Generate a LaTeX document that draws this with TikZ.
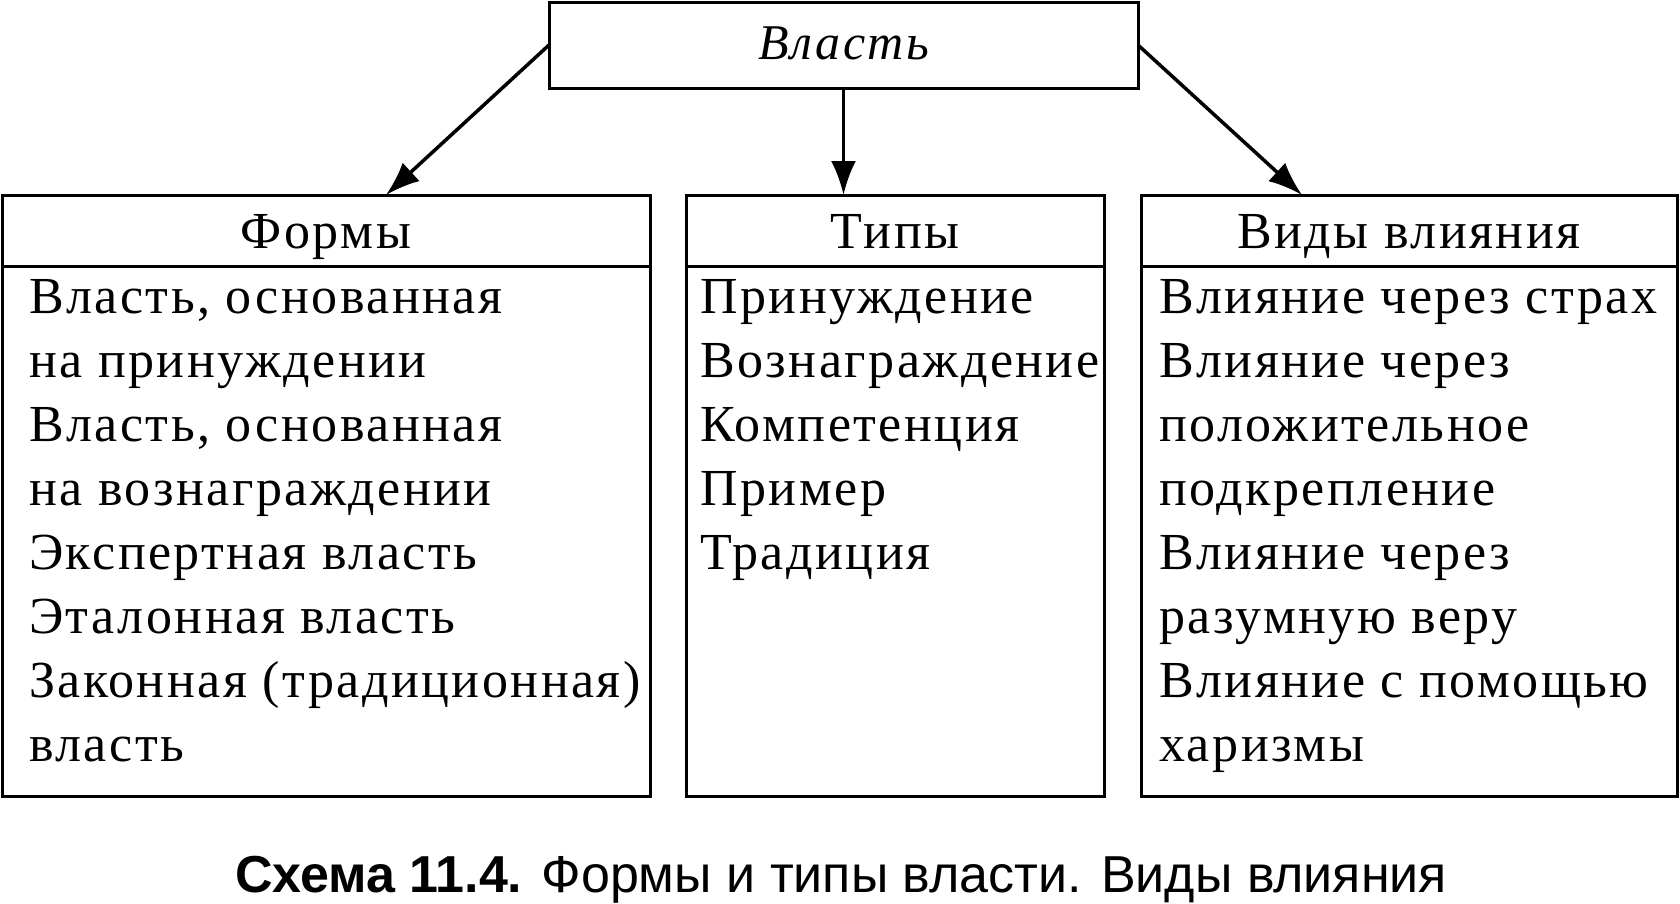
\documentclass[tikz,border=0pt]{standalone}
\usepackage{fontspec}
\setmainfont{Liberation Serif}[LetterSpace=4.8]
\newfontfamily\capfont{Liberation Sans}
\usetikzlibrary{arrows.meta, positioning}

\begin{document}
\begin{tikzpicture}[x=1pt, y=-1pt,
  topbox/.style={rectangle, draw, line width=3pt, outer sep=0pt, inner sep=0pt,
                 font=\fontsize{50}{64}\selectfont\itshape},
  headbox/.style={rectangle, draw, line width=3pt, outer sep=0pt, inner sep=0pt,
                  minimum height=71pt, text height=35pt, text depth=0pt,
                  font=\fontsize{52}{64}\selectfont},
  bodybox/.style={rectangle, draw, line width=3pt, outer sep=0pt, inner sep=0pt,
                  minimum height=530pt},
  bodytext/.style={anchor=north west, align=left, inner sep=0pt,
                   font=\fontsize{52}{64}\selectfont},
  arr/.style={-{Latex[length=34pt,width=25pt]}, line width=3.5pt}
]
  \useasboundingbox (0,0) rectangle (1680,903);
  % top
  \node[topbox, minimum width=589pt, minimum height=86pt] (vlast) at (843.5,45) {\raisebox{3pt}{Власть}};
  % column headers
  \node[headbox, minimum width=648pt] (formyH) at (326,230.5)  {Формы};
  \node[headbox, minimum width=418pt] (tipyH)  at (895,230.5)  {Типы};
  \node[headbox, minimum width=536pt] (vidyH)  at (1409,230.5) {Виды влияния};
  % column bodies
  \node[bodybox, minimum width=648pt, below=0pt of formyH] (formyB) {};
  \node[bodybox, minimum width=418pt, below=0pt of tipyH]  (tipyB)  {};
  \node[bodybox, minimum width=536pt, below=0pt of vidyH]  (vidyB)  {};
  \node[bodytext] (formyT) at ([xshift=27pt,yshift=-13pt]formyB.north west)
    {Власть, основанная\\на принуждении\\Власть, основанная\\на вознаграждении\\
     Экспертная власть\\Эталонная власть\\Законная (традиционная)\\власть};
  \node[bodytext] (tipyT) at ([xshift=14pt,yshift=-13pt]tipyB.north west)
    {Принуждение\\Вознаграждение\\Компетенция\\Пример\\Традиция};
  \node[bodytext] (vidyT) at ([xshift=18pt,yshift=-13pt]vidyB.north west)
    {Влияние через страх\\Влияние через\\положительное\\подкрепление\\
     Влияние через\\разумную веру\\Влияние с помощью\\харизмы};
  % arrows
  \draw[arr] (vlast.west) -- ([xshift=60pt]formyH.north);
  \draw[arr] (vlast.south) -- (vlast.south |- tipyH.north);
  \draw[arr] (vlast.east) -- ([xshift=-107pt]vidyH.north);
  % caption
  \node[font=\capfont\fontsize{52}{60}\selectfont, anchor=base] (caption) at (841,892)
    {\textbf{Схема 11.4.} Формы и типы власти. Виды влияния};
\end{tikzpicture}
\end{document}
